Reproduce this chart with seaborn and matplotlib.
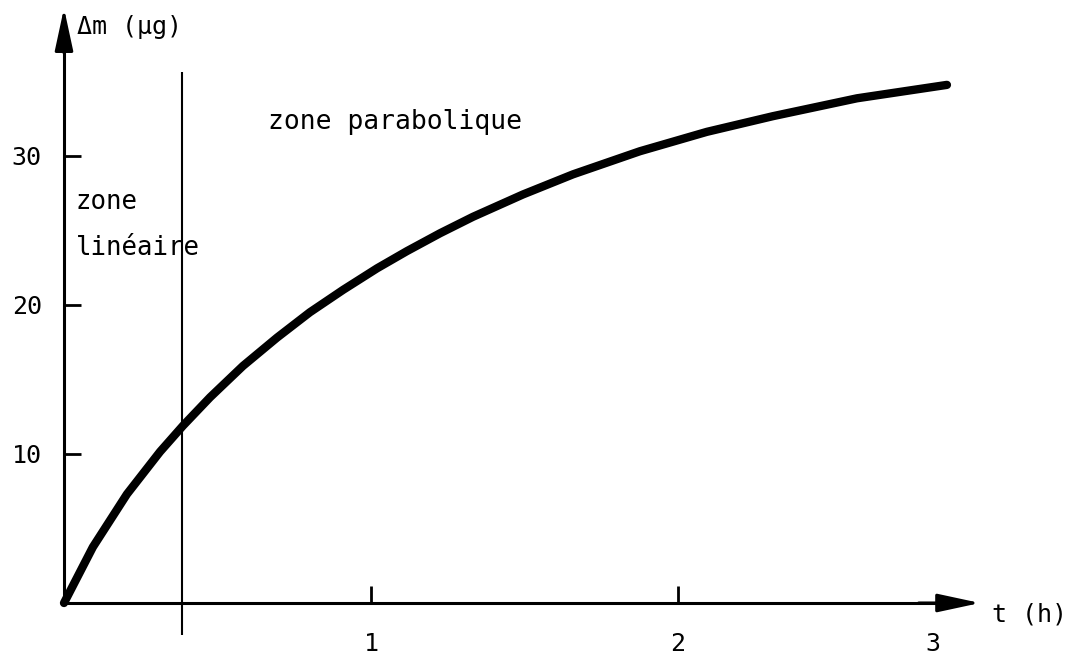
import matplotlib
matplotlib.use("Agg")
import matplotlib.pyplot as plt
import seaborn as sns
import pandas as pd

# ---- data ----
t_h = [0.0, 0.094, 0.205, 0.313, 0.388, 0.476, 0.583, 0.694, 0.801, 0.909,
       1.020, 1.117, 1.225, 1.332, 1.495, 1.658, 1.876, 2.094, 2.309, 2.583, 2.876]
dm_ug = [0.0, 3.75, 7.3, 10.15, 11.9, 13.8, 15.9, 17.8, 19.5, 21.0,
         22.45, 23.6, 24.8, 25.9, 27.4, 28.75, 30.3, 31.6, 32.65, 33.85, 34.75]

x_tick_pos = [1, 2, 2.83]
x_tick_labels = ["1", "2", "3"]
y_tick_pos = [10, 20, 30]
y_tick_labels = ["10", "20", "30"]

zone_boundary_t = 0.384
zone_line_bottom = -2.15
zone_line_top = 35.6

x_axis_end = 2.984
y_axis_end = 39.9

df = pd.DataFrame({"t": t_h, "dm": dm_ug})

sns.set_theme(style="white")
plt.rcParams["font.family"] = ["DejaVu Sans Mono", "DejaVu Sans"]

fig = plt.figure(figsize=(10.76, 6.61), dpi=100)
ax = fig.add_axes([0, 0, 1, 1])
ax.set_facecolor("white")

ax.set_xlim(-64 / 307, (1076 - 64) / 307)
ax.set_ylim((603 - 661) / 14.91, 603 / 14.91)

sns.lineplot(data=df, x="t", y="dm", ax=ax, color="black", linewidth=6,
             solid_capstyle="round", solid_joinstyle="round",
             estimator=None, sort=False)

ax.vlines(zone_boundary_t, zone_line_bottom, zone_line_top, color="black", linewidth=1.5)

# spines as axes at origin
for s in ["top", "right"]:
    ax.spines[s].set_visible(False)
ax.spines["left"].set_position(("data", 0))
ax.spines["bottom"].set_position(("data", 0))
ax.spines["left"].set_bounds(0, y_axis_end - 1)
ax.spines["bottom"].set_bounds(0, x_axis_end - 0.05)
for s in ["left", "bottom"]:
    ax.spines[s].set_color("black")
    ax.spines[s].set_linewidth(2.2)

arrow_kw = dict(arrowstyle="-|>,head_length=1.3,head_width=0.28", color="black",
                lw=2.2, mutation_scale=20, shrinkA=0, shrinkB=0)
ax.annotate("", xy=(0, y_axis_end), xytext=(0, y_axis_end - 3), arrowprops=arrow_kw)
ax.annotate("", xy=(x_axis_end, 0), xytext=(x_axis_end - 0.2, 0), arrowprops=arrow_kw)

ax.set_xticks(x_tick_pos)
ax.set_xticklabels(x_tick_labels)
ax.set_yticks(y_tick_pos)
ax.set_yticklabels(y_tick_labels)
ax.tick_params(axis="both", direction="in", colors="black", labelsize=18,
               width=2, labelcolor="black", bottom=True, left=True,
               top=False, right=False)
ax.tick_params(axis="x", length=12, pad=21)
ax.tick_params(axis="y", length=12.5, pad=16)
ax.xaxis.get_major_ticks()[2].tick1line.set_visible(False)
ax.set_xlabel("")
ax.set_ylabel("")

fs = 18.5
ax.text(0.042, 38.6, "Δm (μg)", fontsize=18, ha="left", va="center", color="black")
ax.text(0.664, 32.26, "zone parabolique", fontsize=19, ha="left", va="center", color="black")
ax.text(0.039, 26.9, "zone", fontsize=fs, ha="left", va="center", color="black")
ax.text(0.039, 23.8, "linéaire", fontsize=fs, ha="left", va="center", color="black")
ax.text(3.023, -0.8, "t (h)", fontsize=18, ha="left", va="center", color="black")

fig.savefig("out.png", dpi=100, facecolor="white")
